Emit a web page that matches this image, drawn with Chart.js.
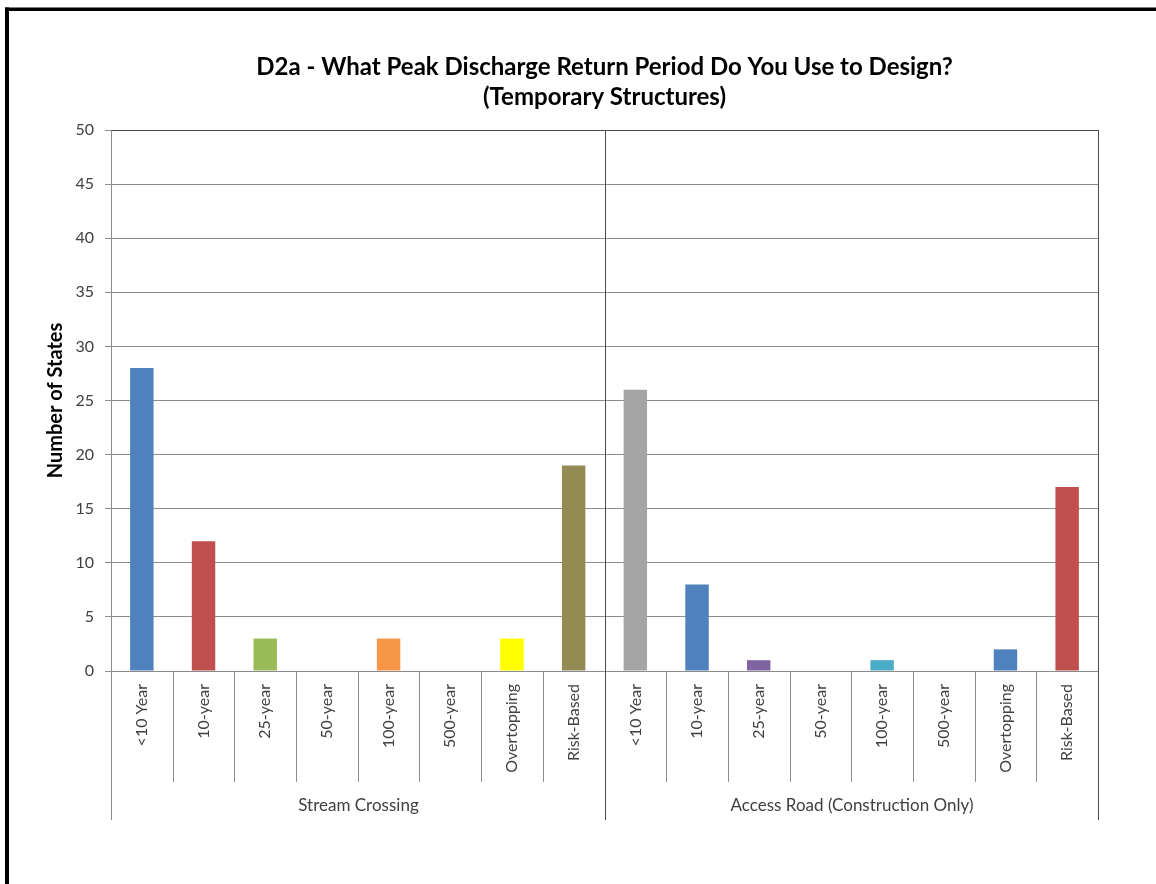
<!DOCTYPE html>
<html>
<head>
<meta charset="utf-8">
<title>D2a - Peak Discharge Return Period (Temporary Structures)</title>
<script src="https://cdn.jsdelivr.net/npm/chart.js@4/dist/chart.umd.min.js"></script>
<style>
  html, body { margin: 0; padding: 0; background: #ffffff; }
  canvas { display: block; }
</style>
</head>
<body>
<canvas id="chart" width="1156" height="884"></canvas>
<script>
// Return-period categories, repeated under each structure type
const categories = ['<10 Year', '10-year', '25-year', '50-year', '100-year', '500-year', 'Overtopping', 'Risk-Based'];
const groups = ['Stream Crossing', 'Access Road (Construction Only)'];

// Number of states per category
const streamCrossing = [28, 12, 3, 0, 3, 0, 3, 19];
const accessRoad = [26, 8, 1, 0, 1, 0, 2, 17];

// Axis ticks
const yTicks = [0, 5, 10, 15, 20, 25, 30, 35, 40, 45, 50];

// Bar fills for each group
const streamColors = ['#4F81BD', '#C0504D', '#9BBB59', '#8064A2', '#F79646', '#4BACC6', '#FFFF00', '#948A54'];
const accessColors = ['#A5A5A5', '#4F81BD', '#8064A2', '#9BBB59', '#4BACC6', '#F79646', '#4F81BD', '#C0504D'];

const FONT = 'Lato, "Open Sans", "Noto Sans", sans-serif';
const labels = groups.flatMap(() => categories);
const values = streamCrossing.concat(accessRoad);
const colors = streamColors.concat(accessColors);

// Frame, plot border and the two-level category axis
const groupAxis = {
  id: 'groupAxis',
  afterLayout(chart) {
    // centre the title over the plot area
    const t = chart.titleBlock;
    if (t) {
      t.left = chart.chartArea.left;
      t.right = chart.chartArea.right;
    }
  },
  beforeDraw(chart) {
    const ctx = chart.ctx;
    ctx.save();
    ctx.fillStyle = '#ffffff';
    ctx.fillRect(0, 0, chart.width, chart.height);
    ctx.fillStyle = '#000000';
    ctx.fillRect(5, 7.5, chart.width, 3.5);
    ctx.fillRect(5, 7.5, 4, chart.height);
    ctx.restore();
  },
  afterDraw(chart) {
    const { ctx, chartArea: a, scales: { x } } = chart;
    const n = labels.length;
    const step = x.getPixelForValue(1) - x.getPixelForValue(0);
    const edge = i => Math.round(x.getPixelForValue(i) - step / 2) + 0.5;
    const per = categories.length;
    ctx.save();
    ctx.lineWidth = 1;
    // category separators below the axis
    ctx.strokeStyle = '#8c8c8c';
    ctx.beginPath();
    for (let i = 1; i < n; i++) {
      if (i % per === 0) continue;
      ctx.moveTo(edge(i), a.bottom);
      ctx.lineTo(edge(i), a.bottom + 111);
    }
    // left axis down to the group row
    ctx.moveTo(edge(0), a.top);
    ctx.lineTo(edge(0), a.bottom + 149);
    ctx.stroke();
    // plot border, group separators
    ctx.strokeStyle = '#4a4a4a';
    ctx.beginPath();
    ctx.moveTo(edge(0), a.top + 0.5);
    ctx.lineTo(edge(n), a.top + 0.5);
    for (let g = 1; g <= groups.length; g++) {
      ctx.moveTo(edge(g * per), a.top);
      ctx.lineTo(edge(g * per), a.bottom + 149);
    }
    ctx.stroke();
    // group names
    ctx.fillStyle = '#404040';
    ctx.font = '17px ' + FONT;
    ctx.textAlign = 'center';
    ctx.textBaseline = 'middle';
    groups.forEach((name, g) => {
      const cx = (edge(g * per) + edge((g + 1) * per)) / 2;
      ctx.fillText(name, cx, a.bottom + 135);
    });
    ctx.restore();
  }
};

new Chart(document.getElementById('chart'), {
  type: 'bar',
  data: {
    labels: labels,
    datasets: [{
      data: values,
      backgroundColor: colors,
      borderWidth: 0,
      barPercentage: 1,
      categoryPercentage: 0.38
    }]
  },
  options: {
    responsive: false,
    animation: false,
    devicePixelRatio: 1,
    layout: { padding: { left: 0, right: 58, top: 0, bottom: 0 } },
    plugins: {
      legend: { display: false },
      tooltip: { enabled: false },
      title: {
        display: true,
        text: ['D2a - What Peak Discharge Return Period Do You Use to Design?', '(Temporary Structures)'],
        color: '#000000',
        font: { family: FONT, size: 24, weight: 'bold', lineHeight: 1.25 },
        padding: { top: 52, bottom: 18 }
      }
    },
    scales: {
      x: {
        grid: { display: false },
        border: { display: false },
        ticks: {
          autoSkip: false,
          minRotation: 90,
          maxRotation: 90,
          padding: 5,
          color: '#404040',
          font: { family: FONT, size: 16 }
        },
        afterFit(scale) { scale.height = 213; }
      },
      y: {
        min: 0,
        max: 50,
        afterBuildTicks(scale) { scale.ticks = yTicks.map(v => ({ value: v })); },
        grid: { color: '#8c8c8c', lineWidth: 1, tickLength: 6, tickColor: '#8c8c8c' },
        border: { display: false },
        ticks: {
          padding: 11,
          color: '#404040',
          font: { family: FONT, size: 16 }
        },
        title: {
          display: true,
          text: 'Number of States',
          color: '#000000',
          font: { family: FONT, size: 20, weight: 'bold' },
          padding: { top: 44, bottom: 0 }
        },
        afterFit(scale) { scale.width = 111; }
      }
    }
  },
  plugins: [groupAxis]
});
</script>
</body>
</html>
